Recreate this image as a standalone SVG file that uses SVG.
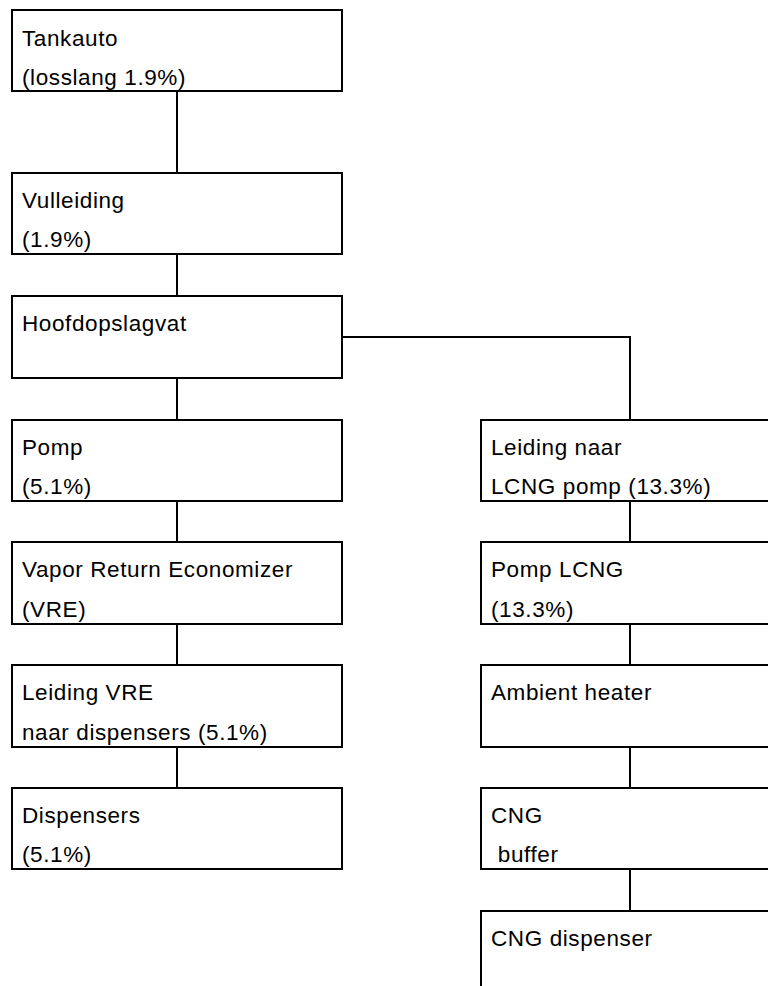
<svg xmlns="http://www.w3.org/2000/svg" width="768" height="986" viewBox="0 0 768 986">
<style>
.box{fill:#fff;stroke:#000;stroke-width:2}
.conn{fill:none;stroke:#000;stroke-width:2}
text{font-family:"Liberation Sans",Arial,sans-serif;font-size:22.5px;letter-spacing:0.6px;fill:#000}
</style>
<rect width="768" height="986" fill="#fff"/>
<g id="connectors">
<path class="conn" d="M177 91V173"/>
<path class="conn" d="M177 254V296"/>
<path class="conn" d="M177 378V420"/>
<path class="conn" d="M177 501V542"/>
<path class="conn" d="M177 624V665"/>
<path class="conn" d="M177 747V788"/>
<path class="conn" d="M342 337H630V420"/>
<path class="conn" d="M630 501V542"/>
<path class="conn" d="M630 624V665"/>
<path class="conn" d="M630 747V788"/>
<path class="conn" d="M630 869V911"/>
</g>
<g id="tankauto"><rect class="box" x="12" y="10" width="330" height="81"/><text x="22" y="46">Tankauto</text><text x="22" y="85">(losslang 1.9%)</text></g>
<g id="vulleiding"><rect class="box" x="12" y="173" width="330" height="81"/><text x="22" y="208">Vulleiding</text><text x="22" y="247">(1.9%)</text></g>
<g id="hoofdopslagvat"><rect class="box" x="12" y="296" width="330" height="82"/><text x="22" y="331">Hoofdopslagvat</text></g>
<g id="pomp"><rect class="box" x="12" y="420" width="330" height="81"/><text x="22" y="455">Pomp</text><text x="22" y="494">(5.1%)</text></g>
<g id="vre"><rect class="box" x="12" y="542" width="330" height="82"/><text x="22" y="577">Vapor Return Economizer</text><text x="22" y="617">(VRE)</text></g>
<g id="leiding-vre"><rect class="box" x="12" y="665" width="330" height="82"/><text x="22" y="700">Leiding VRE</text><text x="22" y="740">naar dispensers (5.1%)</text></g>
<g id="dispensers"><rect class="box" x="12" y="788" width="330" height="81"/><text x="22" y="823">Dispensers</text><text x="22" y="862">(5.1%)</text></g>
<g id="leiding-lcng"><rect class="box" x="481" y="420" width="330" height="81"/><text x="491" y="455">Leiding naar</text><text x="491" y="494">LCNG pomp (13.3%)</text></g>
<g id="pomp-lcng"><rect class="box" x="481" y="542" width="330" height="82"/><text x="491" y="577">Pomp LCNG</text><text x="491" y="617">(13.3%)</text></g>
<g id="ambient-heater"><rect class="box" x="481" y="665" width="330" height="82"/><text x="491" y="700">Ambient heater</text></g>
<g id="cng-buffer"><rect class="box" x="481" y="788" width="330" height="81"/><text x="491" y="823">CNG</text><text x="491" y="862" xml:space="preserve"> buffer</text></g>
<g id="cng-dispenser"><rect class="box" x="481" y="911" width="330" height="81"/><text x="491" y="946">CNG dispenser</text></g>
</svg>
